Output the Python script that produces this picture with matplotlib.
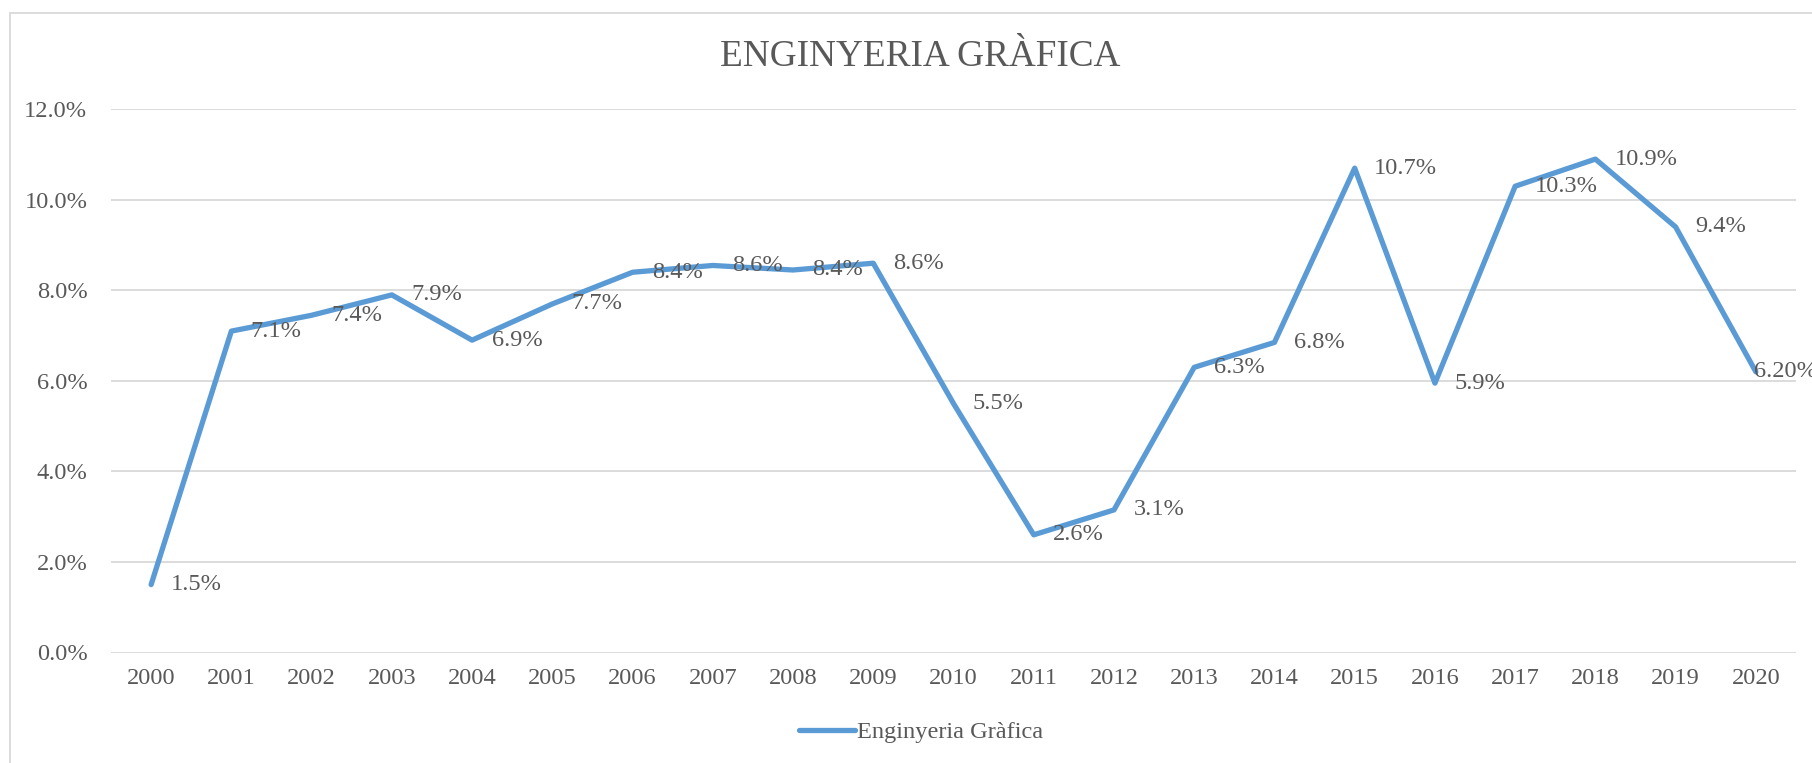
import matplotlib.pyplot as plt
from matplotlib.patches import Rectangle
from matplotlib.lines import Line2D

# dades
anys = [str(a) for a in range(2000, 2021)]
valors = [1.5, 7.1, 7.45, 7.9, 6.9, 7.7, 8.4, 8.55, 8.45, 8.6, 5.5,
          2.6, 3.15, 6.3, 6.85, 10.7, 5.95, 10.3, 10.9, 9.4, 6.2]
etiquetes = ['1.5%', '7.1%', '7.4%', '7.9%', '6.9%', '7.7%', '8.4%', '8.6%',
             '8.4%', '8.6%', '5.5%', '2.6%', '3.1%', '6.3%', '6.8%', '10.7%',
             '5.9%', '10.3%', '10.9%', '9.4%', '6.20%']
yticks = [0, 2, 4, 6, 8, 10, 12]
serie = 'Enginyeria Gràfica'
titol = 'ENGINYERIA GRÀFICA'

blau = '#5B9BD5'
gris = '#595959'
fs = 17.6

plt.rcParams['font.family'] = ['Liberation Serif', 'DejaVu Serif']

fig = plt.figure(figsize=(18.12, 7.63), dpi=100)
ax = fig.add_axes([111 / 1812, 1 - 652.5 / 763, (1796 - 111) / 1812, (652.5 - 109.3) / 763])

x = list(range(len(anys)))
ax.plot(x, valors, color=blau, lw=3.8, solid_capstyle='round', solid_joinstyle='round', zorder=3)
for xi, v, lab in zip(x, valors, etiquetes):
    # l'última etiqueta no cap a la dreta: Excel la desplaça sobre el punt
    dx = 14 if xi < len(x) - 1 else -1
    ax.annotate(lab, (xi, v), xytext=(dx, 0), textcoords='offset points',
                ha='left', va='center', fontsize=fs, color=gris, zorder=4,
                annotation_clip=False)

ax.set_xlim(-0.5, len(anys) - 0.5)
ax.set_ylim(0, 12)
ax.set_xticks(x)
ax.set_xticklabels(anys)
ax.set_yticks(yticks)
ax.set_yticklabels(['%.1f%%' % t for t in yticks])
ax.tick_params(length=0, labelsize=fs, labelcolor=gris)
ax.tick_params(axis='y', pad=17)
ax.tick_params(axis='x', pad=11)
for t in yticks:
    ax.axhline(t, color='#D9D9D9', lw=1.3, zorder=1)
for s in ax.spines.values():
    s.set_visible(False)

fig.text(920 / 1812, 1 - 57 / 763, titol, ha='center', va='center', fontsize=26.8, color=gris)

h = Line2D([], [], color=blau, lw=3.8, solid_capstyle='round')
fig.legend([h], [serie], loc='center', bbox_to_anchor=(921 / 1812, 1 - 732 / 763),
           frameon=False, fontsize=fs, labelcolor=gris, handlelength=2.3, handletextpad=0.1)

fig.patches.append(Rectangle((10 / 1812, -0.1), 1.2, 1 - 13 / 763 + 0.1, transform=fig.transFigure,
                             fill=False, edgecolor='#D9D9D9', lw=1.3))

fig.savefig('out.png', dpi=100)
